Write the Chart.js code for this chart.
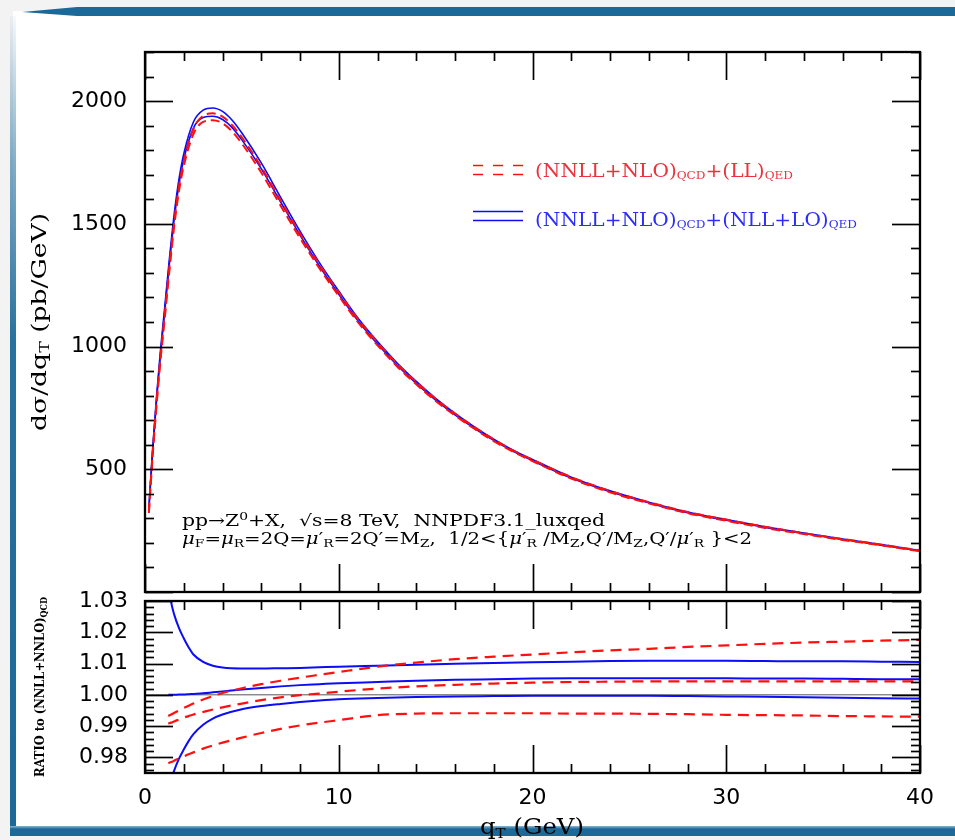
<!DOCTYPE html>
<html>
<head>
<meta charset="utf-8">
<script src="https://cdn.jsdelivr.net/npm/chart.js@4.4.1/dist/chart.umd.min.js"></script>
<style>
  html, body { margin: 0; padding: 0; background: #f3f3f3; }
  #page { position: relative; width: 955px; height: 840px; overflow: hidden; background: #f3f3f3; }
  #sheet { position: absolute; left: 13px; top: 11px; width: 942px; height: 816px; background: #fff; }
  #topbar { position: absolute; left: 22px; top: 7px; width: 933px; height: 9px; background: #1a6999;
            clip-path: polygon(0 55%, 55px 0, 100% 0, 100% 100%, 55px 100%); }
  #leftbar { position: absolute; left: 10px; top: 16px; width: 6px; height: 820px;
             background: linear-gradient(to bottom, rgba(26,105,153,0.04) 0%, rgba(26,105,153,0.55) 18%, rgba(26,105,153,0.95) 40%, #1a6999 100%); }
  #botbar { position: absolute; left: 10px; top: 826px; width: 945px; height: 10px;
            background: linear-gradient(to bottom, #8db6d0 0, #1a6999 30%, #1a6999 100%); }
  canvas { position: absolute; left: 0; top: 0; }
</style>
</head>
<body>
<div id="page">
  <div id="sheet"></div>
  <div id="topbar"></div>
  <div id="leftbar"></div>
  <div id="botbar"></div>
  <canvas id="main" width="955" height="840"></canvas>
  <canvas id="ratio" width="955" height="840"></canvas>
</div>
<script>
// q_T grid of the spectrum (GeV)
const qT = [0.2,0.4,0.6,0.8,1,1.25,1.5,1.75,2,2.5,3,3.5,4,4.5,5,6,7,8,9,10,11,12,13,14,15,16,17,18,19,20,22,24,26,28,30,32,34,36,38,40];
// d sigma / d q_T (pb/GeV): scale-variation envelopes
const spectrumNllLoUpper = [345,590,800,985,1145,1350,1535,1680,1785,1915,1963,1972,1958,1922,1870,1748,1608,1470,1342,1226,1115,1020,934,858,789,728,673,623,578,540,468,412,366,326,295,266,240,216,193,169];
const spectrumNllLoLower = [335,578,786,970,1128,1332,1515,1660,1763,1890,1933,1938,1925,1892,1842,1725,1589,1454,1328,1213,1104,1010,925,850,782,722,667,618,573,535,464,408,363,323,292,263,238,214,191,167];
const spectrumLlUpper    = [330,570,776,958,1115,1318,1503,1650,1753,1886,1940,1950,1937,1902,1852,1732,1595,1460,1335,1221,1111,1017,931,856,787,727,672,622,577,539,468,412,366,326,295,266,240,216,193,169];
const spectrumLlLower    = [322,560,764,945,1100,1302,1486,1632,1735,1866,1915,1922,1910,1876,1827,1709,1574,1442,1319,1206,1098,1005,920,846,778,719,665,615,571,533,462,406,361,321,290,261,236,212,190,166];

// q_T grid of the ratio panel (GeV)
const qTRatio = [1.2,1.35,1.5,1.75,2,2.25,2.5,3,3.5,4,5,6,7,8,9,10,12,14,16,18,20,22,24,26,28,30,32,34,36,38,40];
const ratioNllLoUpper   = [1.036,1.0296,1.0258,1.0214,1.0181,1.0152,1.0129,1.0105,1.0093,1.0087,1.0084,1.0084,1.0085,1.0086,1.0088,1.0090,1.0093,1.0096,1.0099,1.0102,1.0104,1.0106,1.0108,1.0109,1.0109,1.0109,1.0108,1.0107,1.0107,1.0106,1.0105];
const ratioNllLoCentral = [1.0000,1.0000,1.0000,1.0001,1.0001,1.0002,1.0003,1.0005,1.0008,1.0011,1.0017,1.0022,1.0027,1.0031,1.0034,1.0037,1.0041,1.0045,1.0048,1.0050,1.0052,1.0053,1.0053,1.0053,1.0053,1.0053,1.0052,1.0052,1.0051,1.0050,1.0050];
const ratioNllLoLower   = [0.9690,0.9728,0.9757,0.9795,0.9825,0.9852,0.9874,0.9904,0.9924,0.9937,0.9954,0.9964,0.9971,0.9977,0.9982,0.9986,0.9990,0.9993,0.9995,0.9996,0.9997,0.9997,0.9997,0.9997,0.9996,0.9995,0.9994,0.9992,0.9991,0.9989,0.9988];
const ratioLlUpper   = [0.9932,0.9937,0.9942,0.9950,0.9958,0.9965,0.9972,0.9985,0.9996,1.0006,1.0021,1.0034,1.0045,1.0055,1.0064,1.0073,1.0090,1.0103,1.0114,1.0122,1.0129,1.0136,1.0142,1.0147,1.0153,1.0158,1.0163,1.0167,1.0170,1.0173,1.0176];
const ratioLlCentral = [0.9908,0.9911,0.9915,0.9921,0.9927,0.9932,0.9937,0.9945,0.9953,0.9960,0.9972,0.9983,0.9992,0.9999,1.0004,1.0010,1.0020,1.0027,1.0032,1.0036,1.0039,1.0041,1.0042,1.0043,1.0043,1.0043,1.0043,1.0043,1.0043,1.0043,1.0043];
const ratioLlLower   = [0.9782,0.9785,0.9789,0.9796,0.9803,0.9810,0.9816,0.9828,0.9838,0.9847,0.9863,0.9878,0.9891,0.9902,0.9911,0.9919,0.9935,0.9940,0.9941,0.9941,0.9941,0.9940,0.9940,0.9939,0.9938,0.9936,0.9935,0.9934,0.9932,0.9931,0.9930];
const unityRatio = 1.0;

// axis ranges and labelled ticks
const qTRange = [0, 40];
const xTickLabels = [0, 10, 20, 30, 40];
const spectrumRange = [0, 2200];
const spectrumTickLabels = [500, 1000, 1500, 2000];
const ratioRange = [0.975, 1.03];
const ratioTickLabels = [0.98, 0.99, 1.00, 1.01, 1.02, 1.03];

const RED = 'rgb(255,16,16)';
const BLUE = 'rgb(12,12,245)';
const RED_TEXT = 'rgb(236,50,60)';
const BLUE_TEXT = 'rgb(45,45,248)';
const SERIF = 'DejaVu Serif';
const SANS = 'DejaVu Sans';

function pts(xs, ys) { return xs.map((x, i) => ({ x: x, y: ys[i] })); }

// rich text: segments [text, kind], kind = n | i | sub | sup
function segFont(kind, o) {
  const s = (kind === 'sub' || kind === 'sup') ? o.size * (o.subScale || 0.62) : o.size;
  return (kind === 'i' ? 'italic ' : '') + (o.bold ? 'bold ' : '') + s.toFixed(1) + 'px "' + o.family + '"';
}
function drawRich(ctx, segs, o) {
  ctx.save();
  let w = 0;
  for (const [t, k] of segs) { ctx.font = segFont(k, o); w += ctx.measureText(t).width; }
  const sx = o.width ? o.width / w : 1;
  ctx.translate(o.x, o.y);
  if (o.rotate) ctx.rotate(o.rotate);
  ctx.scale(sx, 1);
  let cx = o.align === 'center' ? -w / 2 : 0;
  ctx.fillStyle = o.color || '#000';
  ctx.textAlign = 'left';
  ctx.textBaseline = 'alphabetic';
  for (const [t, k] of segs) {
    ctx.font = segFont(k, o);
    const dy = k === 'sub' ? (o.subDy || 3) : k === 'sup' ? (o.supDy || -6) : 0;
    ctx.fillText(t, cx, dy);
    cx += ctx.measureText(t).width;
  }
  ctx.restore();
}

// frame with inward major/minor ticks on all four sides
const framePlugin = {
  id: 'frame',
  afterDatasetsDraw(chart, args, opts) {
    const { ctx, chartArea: a } = chart;
    const xs = chart.scales.x, ys = chart.scales.y;
    ctx.save();
    ctx.strokeStyle = '#000';
    ctx.lineCap = 'butt';
    ctx.lineWidth = 1.7;
    const line = (x1, y1, x2, y2) => { ctx.beginPath(); ctx.moveTo(x1, y1); ctx.lineTo(x2, y2); ctx.stroke(); };
    const k0x = Math.ceil(xs.min / opts.xStep - 1e-6), k1x = Math.floor(xs.max / opts.xStep + 1e-6);
    for (let k = k0x; k <= k1x; k++) {
      const px = Math.round(xs.getPixelForValue(k * opts.xStep)) + 0.5;
      const len = (k % opts.xMajorEvery === 0) ? 28 : 9;
      line(px, a.bottom, px, a.bottom - len);
      line(px, a.top, px, a.top + len);
    }
    const k0y = Math.ceil(ys.min / opts.yStep - 1e-6), k1y = Math.floor(ys.max / opts.yStep + 1e-6);
    for (let k = k0y; k <= k1y; k++) {
      const py = Math.round(ys.getPixelForValue(k * opts.yStep)) + 0.5;
      const len = (k % opts.yMajorEvery === 0) ? 28 : 9;
      line(a.left, py, a.left + len, py);
      line(a.right, py, a.right - len, py);
    }
    ctx.lineWidth = 2.3;
    ctx.strokeRect(a.left, a.top, a.right - a.left, a.bottom - a.top);
    ctx.restore();
  }
};

// titles, process description and legend of the spectrum panel
const spectrumTextPlugin = {
  id: 'spectrumText',
  afterDraw(chart) {
    const ctx = chart.ctx;
    drawRich(ctx, [['dσ/dq', 'n'], ['T', 'sub'], [' (pb/GeV)', 'n']],
      { x: 46, y: 322, rotate: -Math.PI / 2, align: 'center', size: 21, family: SERIF, width: 218, subDy: 3, subScale: 0.65 });
    drawRich(ctx, [['pp→Z', 'n'], ['0', 'sup'], ['+X,  √s=8 TeV,  NNPDF3.1_luxqed', 'n']],
      { x: 182, y: 526, size: 16, family: SERIF, width: 423, supDy: -6, subScale: 0.68 });
    drawRich(ctx, [['μ', 'i'], ['F', 'sub'], ['=', 'n'], ['μ', 'i'], ['R', 'sub'], ['=2Q=', 'n'],
      ['μ', 'i'], ['′', 'n'], ['R', 'sub'], ['=2Q′=M', 'n'], ['Z', 'sub'], [',  1/2<{', 'n'],
      ['μ', 'i'], ['′', 'n'], ['R', 'sub'], [' /M', 'n'], ['Z', 'sub'], [',Q′/M', 'n'], ['Z', 'sub'],
      [',Q′/', 'n'], ['μ', 'i'], ['′', 'n'], ['R', 'sub'], [' }<2', 'n']],
      { x: 182, y: 544, size: 16, family: SERIF, width: 570, subDy: 2.5, subScale: 0.7 });

    // legend samples
    ctx.save();
    ctx.lineWidth = 1.5;
    ctx.strokeStyle = RED;
    for (const yy of [165.5, 174.5]) {
      for (const x0 of [473, 493, 513]) {
        ctx.beginPath(); ctx.moveTo(x0, yy); ctx.lineTo(x0 + 10, yy); ctx.stroke();
      }
    }
    ctx.strokeStyle = BLUE;
    for (const yy of [211.5, 220.5]) {
      ctx.beginPath(); ctx.moveTo(473, yy); ctx.lineTo(523, yy); ctx.stroke();
    }
    ctx.restore();
    drawRich(ctx, [['(NNLL+NLO)', 'n'], ['QCD', 'sub'], ['+(LL)', 'n'], ['QED', 'sub']],
      { x: 535, y: 177, size: 19, family: SERIF, width: 258, color: RED_TEXT, subDy: 1.5, subScale: 0.6 });
    drawRich(ctx, [['(NNLL+NLO)', 'n'], ['QCD', 'sub'], ['+(NLL+LO)', 'n'], ['QED', 'sub']],
      { x: 535, y: 226, size: 19, family: SERIF, width: 322, color: BLUE_TEXT, subDy: 1.5, subScale: 0.6 });
  }
};

const ratioTextPlugin = {
  id: 'ratioText',
  afterDraw(chart) {
    const ctx = chart.ctx;
    drawRich(ctx, [['RATIO to (NNLL+NNLO)', 'n'], ['QCD', 'sub']],
      { x: 43.5, y: 687, rotate: -Math.PI / 2, align: 'center', size: 13, bold: true, family: SERIF, width: 180, subDy: 3, subScale: 0.7 });
    drawRich(ctx, [['q', 'n'], ['T', 'sub'], [' (GeV)', 'n']],
      { x: 532, y: 834, align: 'center', size: 22, family: SERIF, width: 104, subDy: 4, subScale: 0.62 });
  }
};

Chart.defaults.font.family = SANS;

const baseOptions = () => ({
  responsive: false,
  animation: false,
  devicePixelRatio: 1,
  events: [],
  elements: { point: { radius: 0 }, line: { cubicInterpolationMode: 'monotone', fill: false } },
  plugins: { legend: { display: false }, tooltip: { enabled: false } }
});

const mainOpts = baseOptions();
mainOpts.layout = { padding: { left: 0, right: 35, top: 52, bottom: 248 } };
mainOpts.plugins.frame = { xStep: 2, xMajorEvery: 5, yStep: 100, yMajorEvery: 5 };
mainOpts.scales = {
  x: { type: 'linear', min: qTRange[0], max: qTRange[1], grid: { display: false }, border: { display: false },
       ticks: { display: false }, afterFit(s) { s.height = 0; } },
  y: { type: 'linear', min: spectrumRange[0], max: spectrumRange[1], grid: { display: false }, border: { display: false },
       afterBuildTicks(s) { s.ticks = spectrumTickLabels.map(v => ({ value: v })); },
       ticks: { color: '#000', padding: 10, font: { family: SANS, size: 22 }, callback: v => String(v) },
       afterFit(s) { s.width = 145; } }
};

new Chart(document.getElementById('main'), {
  type: 'line',
  data: {
    datasets: [
      { data: pts(qT, spectrumLlUpper), borderColor: RED, borderWidth: 2, borderDash: [9, 5], clip: 0 },
      { data: pts(qT, spectrumLlLower), borderColor: RED, borderWidth: 2, borderDash: [9, 5], clip: 0 },
      { data: pts(qT, spectrumNllLoUpper), borderColor: BLUE, borderWidth: 1.6, clip: 0 },
      { data: pts(qT, spectrumNllLoLower), borderColor: BLUE, borderWidth: 1.6, clip: 0 }
    ]
  },
  options: mainOpts,
  plugins: [framePlugin, spectrumTextPlugin]
});

const ratioOpts = baseOptions();
ratioOpts.layout = { padding: { left: 0, right: 35, top: 601, bottom: 0 } };
ratioOpts.plugins.frame = { xStep: 2, xMajorEvery: 5, yStep: 0.002, yMajorEvery: 5 };
ratioOpts.scales = {
  x: { type: 'linear', min: qTRange[0], max: qTRange[1], grid: { display: false }, border: { display: false },
       afterBuildTicks(s) { s.ticks = xTickLabels.map(v => ({ value: v })); },
       ticks: { color: '#000', padding: 4, maxRotation: 0, autoSkip: false, font: { family: SANS, size: 22 }, callback: v => String(v) },
       afterFit(s) { s.height = 67; } },
  y: { type: 'linear', min: ratioRange[0], max: ratioRange[1], grid: { display: false }, border: { display: false },
       afterBuildTicks(s) { s.ticks = ratioTickLabels.map(v => ({ value: v })); },
       ticks: { color: '#000', padding: 9, font: { family: SANS, size: 22 }, callback: v => Number(v).toFixed(2) },
       afterFit(s) { s.width = 145; } }
};

new Chart(document.getElementById('ratio'), {
  type: 'line',
  data: {
    datasets: [
      { data: pts(qTRatio, ratioLlUpper), borderColor: RED, borderWidth: 2.2, borderDash: [11, 7], clip: 0 },
      { data: pts(qTRatio, ratioLlCentral), borderColor: RED, borderWidth: 2.2, borderDash: [11, 7], clip: 0 },
      { data: pts(qTRatio, ratioLlLower), borderColor: RED, borderWidth: 2.2, borderDash: [11, 7], clip: 0 },
      { data: pts(qTRatio, ratioNllLoUpper), borderColor: BLUE, borderWidth: 2, clip: 0 },
      { data: pts(qTRatio, ratioNllLoCentral), borderColor: BLUE, borderWidth: 2, clip: 0 },
      { data: pts(qTRatio, ratioNllLoLower), borderColor: BLUE, borderWidth: 2, clip: 0 },
      { data: pts(qTRange, [unityRatio, unityRatio]), borderColor: '#555', borderWidth: 1, clip: 0, cubicInterpolationMode: 'default', tension: 0 }
    ]
  },
  options: ratioOpts,
  plugins: [framePlugin, ratioTextPlugin]
});
</script>
</body>
</html>
